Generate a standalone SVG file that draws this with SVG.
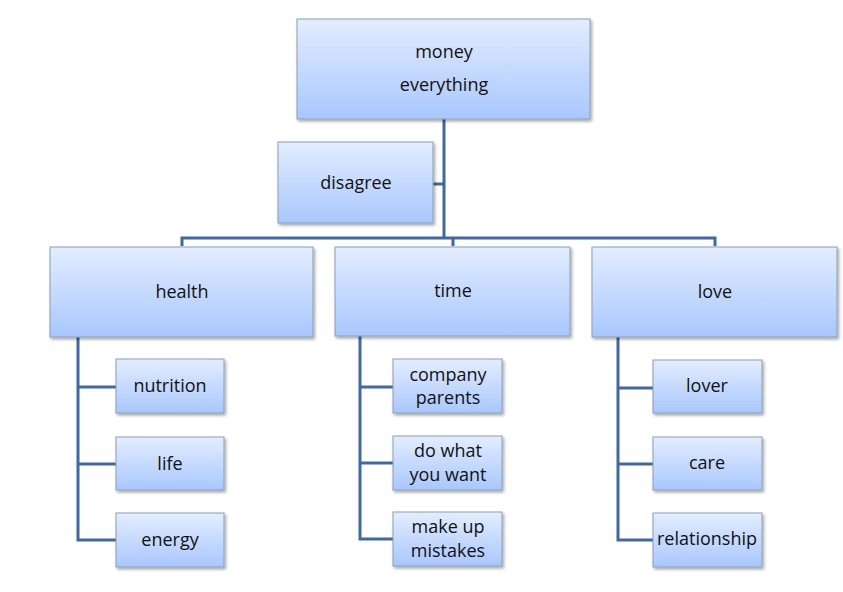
<svg xmlns="http://www.w3.org/2000/svg" width="843" height="592" viewBox="0 0 843 592">
<defs>
<linearGradient id="g" x1="0" y1="0" x2="0" y2="1">
<stop offset="0" stop-color="#e3edff"/>
<stop offset="1" stop-color="#a9c7fd"/>
</linearGradient>
<filter id="sh" x="-10%" y="-10%" width="130%" height="130%">
<feDropShadow dx="1.5" dy="2" stdDeviation="1.5" flood-color="#000" flood-opacity="0.35"/>
</filter>
<style>
.box{fill:url(#g);stroke:#8c9db5;stroke-width:1;filter:url(#sh)}
.t{font-family:"Open Sans","Noto Sans",sans-serif;font-size:18px;fill:#111;text-anchor:middle}
.c{fill:none;stroke:#41699f;stroke-width:3}
</style>
</defs>
<rect width="843" height="592" fill="#fff"/>
<g id="connectors">
<path class="c" d="M444,119 V238"/>
<path class="c" d="M433,184 H444"/>
<path class="c" d="M182,246 V238 H715 V246"/>
<path class="c" d="M453,238 V246"/>
<path class="c" d="M78,337 V540 H116 M78,387 H116 M78,464 H116"/>
<path class="c" d="M360,336 V539 H393 M360,387 H393 M360,463 H393"/>
<path class="c" d="M618,337 V540 H653 M618,388 H653 M618,464 H653"/>
</g>
<g id="root"><rect class="box" x="297" y="19" width="293" height="100"/><text class="t" x="444" y="58">money</text><text class="t" x="444" y="91">everything</text></g>
<g id="disagree"><rect class="box" x="278" y="142" width="155" height="81"/><text class="t" x="356" y="189">disagree</text></g>
<g id="health"><rect class="box" x="50" y="247" width="263" height="90"/><text class="t" x="182" y="298">health</text></g>
<g id="time"><rect class="box" x="335" y="247" width="235" height="89"/><text class="t" x="453" y="297">time</text></g>
<g id="love"><rect class="box" x="592" y="247" width="245" height="90"/><text class="t" x="715" y="298">love</text></g>
<g id="nutrition"><rect class="box" x="116" y="359" width="108" height="54"/><text class="t" x="170" y="392">nutrition</text></g>
<g id="life"><rect class="box" x="116" y="437" width="108" height="53"/><text class="t" x="170" y="470">life</text></g>
<g id="energy"><rect class="box" x="116" y="513" width="108" height="54"/><text class="t" x="170" y="546">energy</text></g>
<g id="company"><rect class="box" x="393" y="359" width="109" height="54"/><text class="t" x="448" y="381">company</text><text class="t" x="448" y="404">parents</text></g>
<g id="dowhat"><rect class="box" x="393" y="436" width="109" height="54"/><text class="t" x="448" y="457">do what</text><text class="t" x="448" y="481">you want</text></g>
<g id="makeup"><rect class="box" x="393" y="512" width="109" height="54"/><text class="t" x="448" y="533">make up</text><text class="t" x="448" y="557">mistakes</text></g>
<g id="lover"><rect class="box" x="653" y="360" width="109" height="53"/><text class="t" x="707" y="392">lover</text></g>
<g id="care"><rect class="box" x="653" y="437" width="109" height="53"/><text class="t" x="707" y="469">care</text></g>
<g id="relationship"><rect class="box" x="653" y="513" width="109" height="54"/><text class="t" x="707" y="545">relationship</text></g>
</svg>
